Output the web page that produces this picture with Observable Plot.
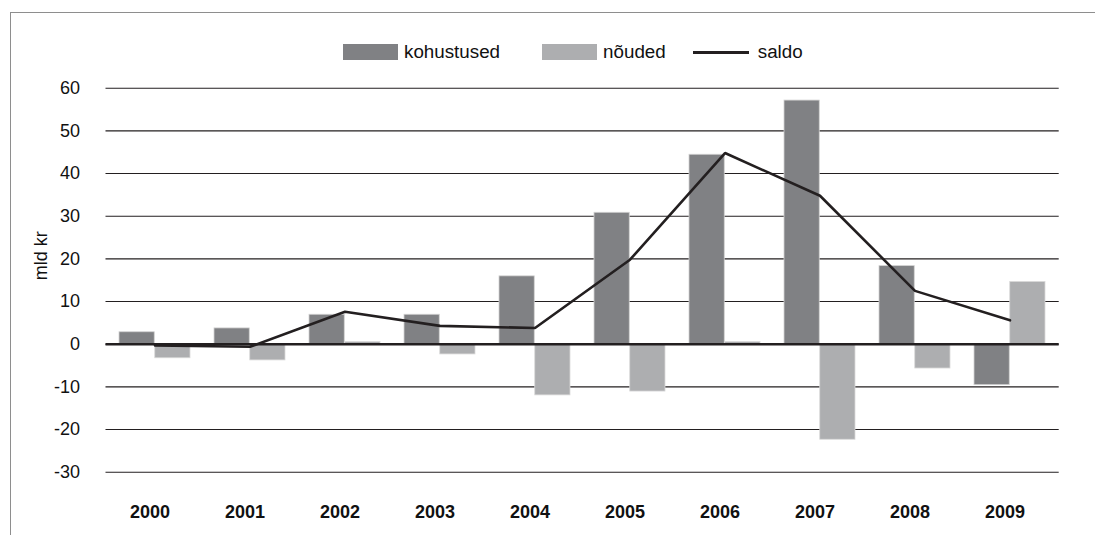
<!DOCTYPE html>
<html>
<head>
<meta charset="utf-8">
<script src="https://cdn.jsdelivr.net/npm/d3@7"></script>
<script src="https://cdn.jsdelivr.net/npm/@observablehq/plot@0.6"></script>
<style>
  html, body { margin: 0; padding: 0; background: #fff; overflow: hidden; }
  body { font-family: "Liberation Sans", Arial, Helvetica, sans-serif; color: #111; }
  #wrap { position: relative; width: 1095px; height: 535px; overflow: hidden; }
  #frame { position: absolute; left: 10px; top: 12px; width: 1200px; height: 700px;
           border-top: 1.5px solid #8e8e8e; border-left: 1.5px solid #8e8e8e; }
  #legend { position: absolute; left: 343px; top: 43px; height: 18px; display: flex; align-items: center; font-size: 18.8px; color: #111; }
  .sw { width: 55px; height: 16px; margin-right: 6px; }
  .ln { width: 56px; height: 3px; background: #231f20; margin-right: 9px; }
  .item { display: flex; align-items: center; }
  #chart { position: absolute; left: 0; top: 70px; }
</style>
</head>
<body>
<div id="wrap">
  <div id="frame"></div>
  <div id="legend"></div>
  <div id="chart"></div>
</div>
<script>
// ---- data ----
const years = ["2000", "2001", "2002", "2003", "2004", "2005", "2006", "2007", "2008", "2009"];
const kohustused = [2.8, 3.7, 6.9, 6.9, 15.9, 30.8, 44.4, 57.1, 18.3, -9.6];
const noudedVals = [-3.3, -3.8, 0.5, -2.4, -12.0, -11.1, 0.5, -22.4, -5.7, 14.6];
const saldo = [-0.3, -0.6, 7.6, 4.3, 3.8, 19.8, 44.8, 34.8, 12.5, 5.6];
const yTicks = [-30, -20, -10, 0, 10, 20, 30, 40, 50, 60];
const seriesNames = ["kohustused", "nõuded", "saldo"];
const seriesColors = ["#808184", "#adaeb0", "#231f20"];
const yTitle = "mld kr";

const rows = years.map((y, i) => ({ year: y, k: kohustused[i], n: noudedVals[i], s: saldo[i] }));

// ---- legend (HTML, above the SVG) ----
const legend = document.getElementById("legend");
seriesNames.forEach((name, i) => {
  const item = document.createElement("div");
  item.className = "item";
  item.style.marginRight = i === 0 ? "42px" : (i === 1 ? "27px" : "0");
  const sw = document.createElement("div");
  if (i < 2) { sw.className = "sw"; sw.style.background = seriesColors[i]; }
  else { sw.className = "ln"; sw.style.background = seriesColors[i]; }
  const t = document.createElement("span");
  t.textContent = name;
  item.appendChild(sw); item.appendChild(t);
  legend.appendChild(item);
});

// ---- chart ----
const W = 1095, H = 465;
const ML = 105.5, MR = 36.3, MT = 17.7, MB = 63.3;
const step = (W - ML - MR) / years.length;
const half = step * 0.75 / 2;
const font = "'Liberation Sans', Arial, Helvetica, sans-serif";

const chart = Plot.plot({
  width: W, height: H,
  marginLeft: ML, marginRight: MR, marginTop: MT, marginBottom: MB,
  style: { fontFamily: font, fontSize: "18px", color: "#111", background: "transparent", overflow: "visible" },
  x: { type: "band", domain: years, paddingInner: 0.25, paddingOuter: 0.125, axis: null },
  y: { domain: [-30, 60], axis: null },
  marks: [
    Plot.ruleY(yTicks, { stroke: "#231f20", strokeWidth: 1.1 }),
    Plot.barY(rows, { x: "year", y: "k", fill: seriesColors[0], insetRight: half, stroke: "#d2d2d2", strokeWidth: 0.8 }),
    Plot.barY(rows, { x: "year", y: "n", fill: seriesColors[1], insetLeft: half, stroke: "#dadada", strokeWidth: 0.8 }),
    Plot.ruleY([0], { stroke: "#231f20", strokeWidth: 2.6 }),
    Plot.lineY(rows, { x: "year", y: "s", stroke: seriesColors[2], strokeWidth: 2.6, strokeLinejoin: "miter" }),
    Plot.axisY({ ticks: yTicks, tickSize: 0, tickPadding: 26, tickFormat: d => String(d), label: null, fontSize: 18 }),
    Plot.axisX({ tickSize: 0, tickPadding: 33, label: null, fontWeight: "bold", fontSize: 18, dx: -5 }),
    Plot.text([yTitle], { frameAnchor: "left", dx: -65, rotate: -90, fontSize: 18, fill: "#111" })
  ]
});
document.getElementById("chart").appendChild(chart);
</script>
</body>
</html>
